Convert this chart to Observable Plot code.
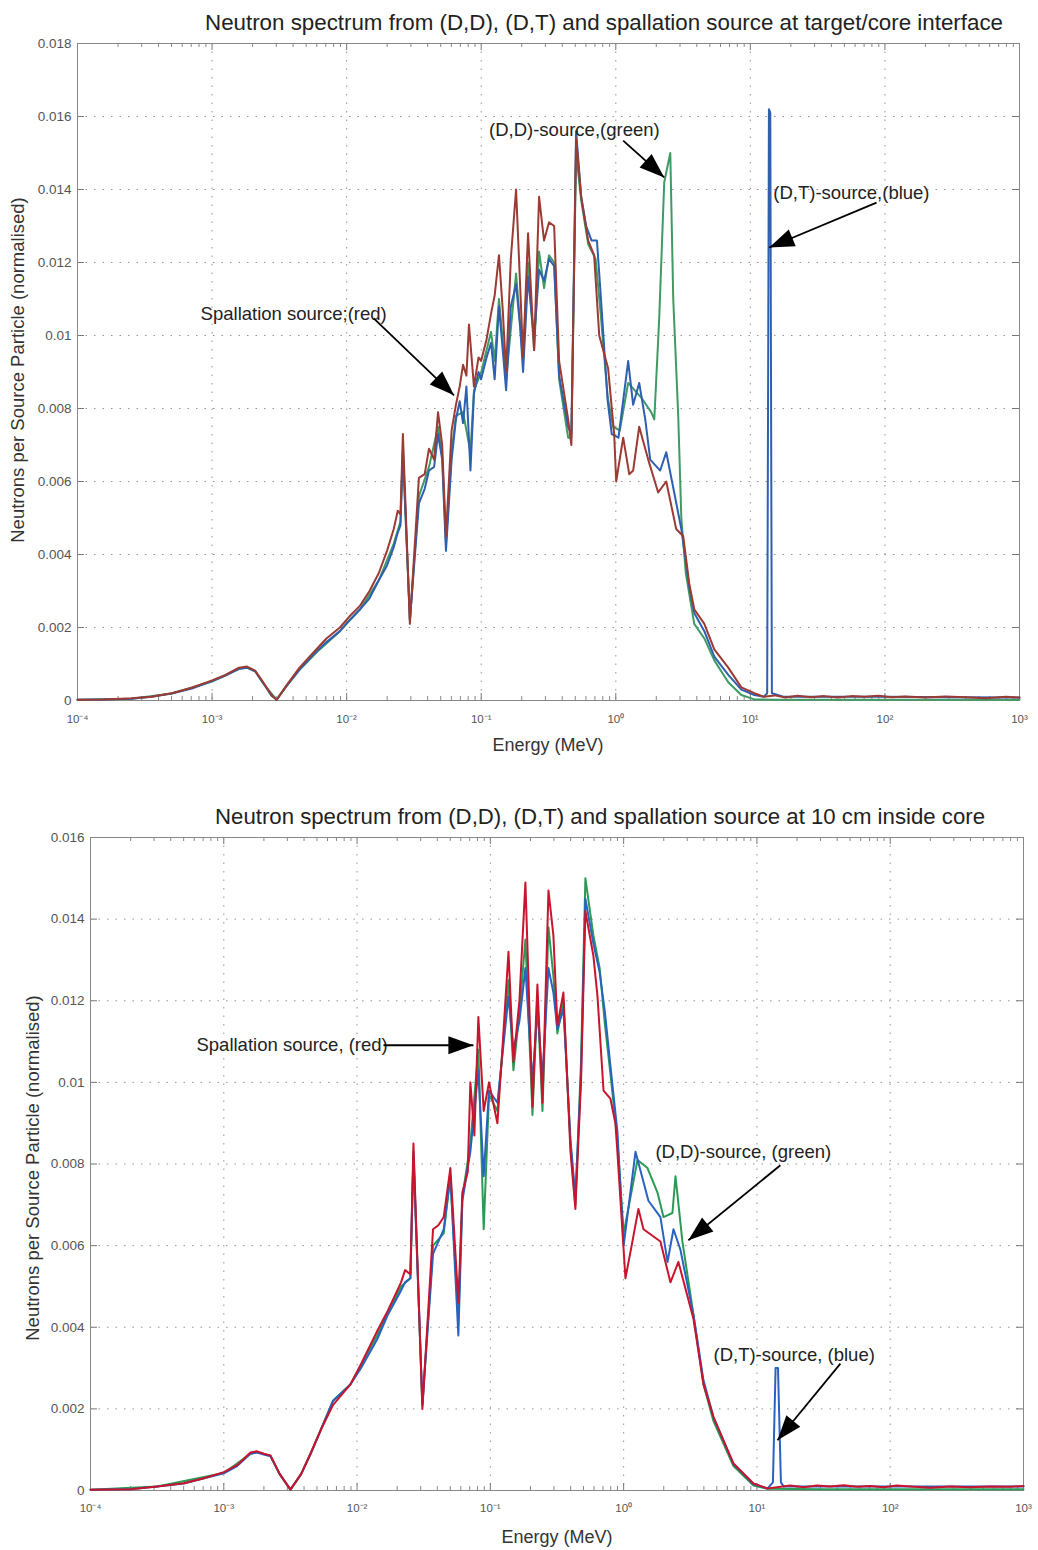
<!DOCTYPE html>
<html><head><meta charset="utf-8">
<script src="https://cdn.jsdelivr.net/npm/d3@7"></script>
<script src="https://cdn.jsdelivr.net/npm/@observablehq/plot@0.6"></script>
<style>
body{margin:0;background:#fff;}
#page{position:relative;width:1038px;height:1550px;overflow:hidden;background:#fff;font-family:"Liberation Sans",Arial,Helvetica,sans-serif;}
.chart{position:absolute;left:0;}
.title{position:absolute;font-size:22px;color:#222;white-space:nowrap;line-height:1;transform-origin:0 50%;}
.xlab{position:absolute;font-size:18px;color:#333;white-space:nowrap;transform:translate(-50%,-50%);line-height:1;}
.ylab{position:absolute;font-size:18.5px;color:#333;white-space:nowrap;transform:translate(-50%,-50%) rotate(-90deg);line-height:1;}
</style></head>
<body><div id="page">
<div class="chart" id="c1"></div>
<div class="chart" id="c2"></div>
</div>
<script>
// ---------- axis ticks / labels ----------
const xDecades = [1e-4, 1e-3, 1e-2, 1e-1, 1, 10, 100, 1000];
const xTickLabels = ["10\u207B\u2074","10\u207B\u00B3","10\u207B\u00B2","10\u207B\u00B9","10\u2070","10\u00B9","10\u00B2","10\u00B3"];
const topYTicks = [0, 0.002, 0.004, 0.006, 0.008, 0.01, 0.012, 0.014, 0.016, 0.018];
const botYTicks = [0, 0.002, 0.004, 0.006, 0.008, 0.01, 0.012, 0.014, 0.016];

const topTitle = "Neutron spectrum from (D,D), (D,T) and spallation source at target/core interface";
const botTitle = "Neutron spectrum from (D,D), (D,T) and spallation source at 10 cm inside core";
const xLabel = "Energy (MeV)";
const yLabel = "Neutrons per Source Particle (normalised)";

// ---------- TOP chart series (log10 of energy in MeV, value) ----------
const topRedLogE = [-4.0,-3.8,-3.6,-3.45,-3.3,-3.15,-3.0,-2.9,-2.8,-2.74,-2.68,-2.62,-2.56,-2.52,-2.45,-2.35,-2.25,-2.15,-2.05,-1.98,-1.9,-1.83,-1.76,-1.70,-1.65,-1.62,-1.6,-1.582,-1.53,-1.463,-1.42,-1.388,-1.35,-1.321,-1.29,-1.262,-1.22,-1.188,-1.16,-1.135,-1.11,-1.091,-1.054,-1.02,-1.001,-0.96,-0.927,-0.9,-0.868,-0.84,-0.815,-0.78,-0.741,-0.71,-0.689,-0.652,-0.607,-0.57,-0.533,-0.496,-0.458,-0.421,-0.354,-0.33,-0.295,-0.257,-0.205,-0.161,-0.123,-0.057,-0.012,0.003,0.055,0.1,0.129,0.174,0.241,0.315,0.375,0.449,0.501,0.546,0.583,0.658,0.732,0.836,0.933,1.03,1.1,1.18,1.26,1.35,1.45,1.55,1.65,1.75,1.85,1.95,2.05,2.15,2.3,2.45,2.6,2.75,2.9,3.0];
const topRedV = [0.00002,0.00003,0.00006,0.0001,0.0002,0.00035,0.00055,0.0007,0.0009,0.00093,0.00082,0.0005,0.00015,0.00002,0.0004,0.0009,0.0013,0.0017,0.002,0.0023,0.0026,0.003,0.0035,0.0041,0.0047,0.0052,0.0051,0.0073,0.0021,0.0061,0.0062,0.0069,0.0066,0.0079,0.007,0.0045,0.0074,0.0081,0.0086,0.0092,0.0089,0.0103,0.0086,0.0094,0.0093,0.0099,0.0106,0.0111,0.0122,0.0107,0.009,0.0121,0.014,0.0113,0.0094,0.0128,0.0096,0.0138,0.0126,0.0131,0.013,0.0093,0.0077,0.007,0.0154,0.0138,0.0126,0.0122,0.01,0.0091,0.0073,0.006,0.0072,0.0062,0.0063,0.0075,0.0066,0.0057,0.006,0.0047,0.0045,0.0032,0.0025,0.0021,0.0014,0.0009,0.00036,0.0002,0.0001,0.00014,0.00008,0.00013,0.00009,0.00012,0.00008,0.00012,0.0001,0.00013,0.00009,0.00011,0.00008,0.00011,0.00009,0.00006,0.0001,0.00008];

const topBlueLogE = [-4.0,-3.8,-3.6,-3.45,-3.3,-3.15,-3.0,-2.9,-2.8,-2.74,-2.68,-2.62,-2.56,-2.52,-2.45,-2.35,-2.25,-2.15,-2.05,-1.98,-1.9,-1.83,-1.76,-1.70,-1.65,-1.62,-1.6,-1.582,-1.53,-1.463,-1.42,-1.388,-1.35,-1.321,-1.29,-1.262,-1.22,-1.188,-1.16,-1.135,-1.11,-1.08,-1.054,-1.02,-1.001,-0.96,-0.927,-0.9,-0.868,-0.84,-0.815,-0.78,-0.741,-0.71,-0.689,-0.652,-0.607,-0.57,-0.533,-0.496,-0.458,-0.421,-0.354,-0.33,-0.295,-0.257,-0.22,-0.18,-0.14,-0.11,-0.06,-0.03,0.02,0.092,0.129,0.174,0.219,0.256,0.33,0.375,0.434,0.487,0.546,0.583,0.658,0.732,0.836,0.933,1.03,1.1,1.125,1.138,1.148,1.16,1.25,1.5,2.0,2.5,3.0];
const topBlueV = [0.00002,0.00003,0.00005,0.0001,0.00019,0.00033,0.00053,0.00068,0.00087,0.0009,0.0008,0.00048,0.00014,0.00002,0.00038,0.00085,0.00125,0.0016,0.0019,0.0022,0.0025,0.0028,0.0033,0.0037,0.0042,0.0046,0.0048,0.0068,0.0022,0.0054,0.0058,0.0063,0.0064,0.0073,0.0066,0.0041,0.0066,0.0077,0.0082,0.0076,0.0086,0.0063,0.0084,0.009,0.0088,0.0094,0.0098,0.0088,0.0108,0.0096,0.0085,0.0108,0.0114,0.0102,0.009,0.0116,0.0099,0.0118,0.0115,0.0121,0.0119,0.0089,0.0075,0.0073,0.0156,0.0138,0.013,0.0126,0.0126,0.011,0.0082,0.0073,0.0072,0.0093,0.0081,0.0087,0.0077,0.0066,0.0063,0.0068,0.0057,0.0047,0.0031,0.0024,0.0019,0.0012,0.0007,0.0003,0.00015,0.0001,0.0002,0.0162,0.0161,0.0002,0.0001,0.0001,0.0001,0.00009,0.00008];

const topGreenLogE = [-4.0,-3.6,-3.3,-3.0,-2.8,-2.74,-2.68,-2.62,-2.52,-2.45,-2.35,-2.2,-2.05,-1.9,-1.76,-1.65,-1.6,-1.582,-1.53,-1.463,-1.388,-1.321,-1.29,-1.262,-1.22,-1.188,-1.135,-1.08,-1.054,-1.0,-0.927,-0.9,-0.868,-0.815,-0.741,-0.689,-0.652,-0.607,-0.57,-0.533,-0.496,-0.458,-0.421,-0.354,-0.33,-0.295,-0.257,-0.205,-0.15,-0.11,-0.06,-0.02,0.03,0.092,0.189,0.263,0.286,0.31,0.323,0.36,0.405,0.427,0.464,0.487,0.52,0.583,0.658,0.732,0.836,0.933,1.03,1.2,1.6,2.2,3.0];
const topGreenV = [0.00002,0.00005,0.00019,0.00052,0.00087,0.0009,0.0008,0.00047,0.00002,0.00038,0.00084,0.0014,0.0019,0.0025,0.0033,0.0043,0.0049,0.0069,0.0022,0.0056,0.0064,0.0075,0.0067,0.0043,0.0068,0.0078,0.0079,0.0068,0.0085,0.009,0.0101,0.0093,0.011,0.0088,0.0117,0.0093,0.012,0.0096,0.0123,0.0113,0.0122,0.012,0.0088,0.0072,0.0072,0.015,0.0137,0.0125,0.0121,0.0105,0.0083,0.0075,0.0074,0.0087,0.0083,0.0079,0.0077,0.0095,0.0105,0.0142,0.015,0.011,0.0078,0.005,0.0035,0.0021,0.0017,0.0011,0.0005,0.00015,0.00003,0.00002,0.00002,0.00002,0.00002];

// ---------- BOTTOM chart series ----------
const botRedLogE = [-4.0,-3.7,-3.5,-3.3,-3.15,-3.0,-2.9,-2.8,-2.75,-2.7,-2.65,-2.58,-2.5,-2.42,-2.35,-2.27,-2.18,-2.05,-1.97,-1.85,-1.77,-1.67,-1.64,-1.6,-1.577,-1.51,-1.43,-1.39,-1.35,-1.3,-1.24,-1.21,-1.17,-1.15,-1.12,-1.09,-1.05,-1.01,-0.947,-0.91,-0.864,-0.827,-0.782,-0.737,-0.684,-0.647,-0.609,-0.564,-0.527,-0.497,-0.452,-0.399,-0.362,-0.32,-0.287,-0.227,-0.196,-0.151,-0.099,-0.062,-0.047,0.0135,0.06,0.111,0.149,0.276,0.351,0.411,0.524,0.599,0.674,0.824,0.974,1.079,1.15,1.25,1.35,1.45,1.55,1.65,1.75,1.85,1.95,2.05,2.15,2.3,2.45,2.6,2.75,2.9,3.0];
const botRedV = [0.00002,0.00003,0.0001,0.00018,0.0003,0.00045,0.00062,0.00093,0.00096,0.0009,0.00086,0.0004,0.00002,0.0004,0.0009,0.0015,0.0021,0.0026,0.0031,0.0039,0.0044,0.0051,0.0054,0.0053,0.0085,0.002,0.0064,0.0065,0.0067,0.0079,0.0046,0.0073,0.0078,0.01,0.0087,0.0116,0.0093,0.01,0.009,0.0108,0.0132,0.0105,0.012,0.0149,0.0094,0.0124,0.0095,0.0147,0.0136,0.0114,0.0122,0.0083,0.0069,0.01,0.0142,0.0131,0.0121,0.0098,0.0096,0.009,0.0083,0.0052,0.006,0.0069,0.0064,0.0061,0.0051,0.0056,0.0042,0.0026,0.0018,0.00066,0.00017,0.00005,0.00008,0.00012,0.00008,0.00012,0.0001,0.00013,0.00009,0.00011,0.00008,0.00012,0.0001,0.00007,0.0001,0.00008,0.0001,0.00009,0.00011];

const botBlueLogE = [-4.0,-3.7,-3.5,-3.3,-3.0,-2.9,-2.8,-2.75,-2.7,-2.65,-2.58,-2.5,-2.42,-2.35,-2.27,-2.18,-2.05,-1.97,-1.85,-1.77,-1.67,-1.64,-1.6,-1.577,-1.51,-1.43,-1.35,-1.3,-1.24,-1.21,-1.15,-1.09,-1.05,-1.01,-0.947,-0.864,-0.827,-0.782,-0.737,-0.684,-0.647,-0.609,-0.564,-0.527,-0.497,-0.452,-0.399,-0.362,-0.32,-0.287,-0.227,-0.18,-0.14,-0.099,-0.047,0.0,0.089,0.186,0.276,0.329,0.374,0.426,0.524,0.599,0.674,0.824,0.974,1.08,1.12,1.14,1.158,1.18,1.2,1.6,2.2,3.0];
const botBlueV = [0.00002,0.00003,0.0001,0.00017,0.00042,0.0006,0.0009,0.00093,0.00088,0.00084,0.0004,0.00002,0.0004,0.00088,0.0015,0.0022,0.0026,0.003,0.0037,0.0043,0.0049,0.0051,0.0052,0.0083,0.0021,0.0058,0.0064,0.0077,0.0038,0.0071,0.0083,0.0103,0.0077,0.0098,0.0095,0.0121,0.0108,0.0115,0.0128,0.01,0.0118,0.0101,0.0128,0.0122,0.0113,0.0118,0.0086,0.0072,0.0102,0.0145,0.0134,0.0127,0.0117,0.0104,0.0088,0.006,0.0083,0.0071,0.0067,0.0056,0.0064,0.0059,0.0043,0.0027,0.0018,0.00065,0.00016,0.00005,0.0002,0.003,0.003,0.0002,0.0001,0.0001,0.0001,0.0001];

const botGreenLogE = [-4.0,-3.5,-3.0,-2.8,-2.75,-2.65,-2.58,-2.5,-2.42,-2.35,-2.18,-2.05,-1.85,-1.67,-1.6,-1.577,-1.51,-1.43,-1.35,-1.3,-1.24,-1.21,-1.15,-1.09,-1.05,-1.01,-0.947,-0.864,-0.827,-0.782,-0.737,-0.684,-0.647,-0.609,-0.564,-0.527,-0.497,-0.452,-0.399,-0.362,-0.32,-0.287,-0.227,-0.18,-0.14,-0.099,-0.047,0.0,0.104,0.179,0.254,0.299,0.366,0.389,0.441,0.524,0.599,0.674,0.824,0.974,1.08,1.5,2.2,3.0];
const botGreenV = [0.00002,0.0001,0.00043,0.0009,0.00094,0.00085,0.0004,0.00002,0.0004,0.0009,0.0022,0.0026,0.0038,0.005,0.0052,0.0082,0.0021,0.006,0.0063,0.0077,0.0042,0.0072,0.0085,0.0108,0.0064,0.0097,0.0093,0.0125,0.0103,0.0117,0.0135,0.0092,0.0121,0.0093,0.0138,0.0126,0.0112,0.012,0.0085,0.007,0.0105,0.015,0.0136,0.0128,0.0114,0.0102,0.0086,0.0063,0.0081,0.0079,0.0073,0.0067,0.0068,0.0077,0.0061,0.0043,0.0026,0.0017,0.0006,0.00012,0.00004,0.00003,0.00003,0.00003];

// ---------- annotations (energy MeV, value) ----------
const topNoteText = ["(D,D)-source,(green)", "(D,T)-source,(blue)", "Spallation source;(red)"];
const topNoteE = [0.1143, 14.8, 0.000822];
const topNoteV = [0.01562, 0.01389, 0.0106];
const topArrowE1 = [1.135, 86.6, 0.0159];
const topArrowV1 = [0.01534, 0.01364, 0.01047];
const topArrowE2 = [2.29, 13.8, 0.0628];
const topArrowV2 = [0.01433, 0.01241, 0.00836];

const botNoteText = ["Spallation source, (red)", "(D,D)-source, (green)", "(D,T)-source, (blue)"];
const botNoteE = [0.000624, 1.732, 4.72];
const botNoteV = [0.01091, 0.00828, 0.00331];
const botArrowE1 = [0.01578, 15.0, 42.3];
const botArrowV1 = [0.01091, 0.00797, 0.00311];
const botArrowE2 = [0.0746, 3.06, 14.26];
const botArrowV2 = [0.01091, 0.00613, 0.00123];

// ---------- helpers ----------
const FONT = '"Liberation Sans", Arial, Helvetica, sans-serif';
const toRows = (logE, v) => logE.map((l, i) => ({E: Math.pow(10, l), v: v[i]}));
const minorTicks = [];
xDecades.slice(0, -1).forEach(d => { for (let k = 2; k <= 9; k++) minorTicks.push(d * k); });
const yFmt = d => String(+d.toFixed(3));
const xFmt = d => xTickLabels[xDecades.indexOf(d)] ?? "";
const head = { draw(ctx) { ctx.moveTo(0, 0); ctx.lineTo(-9, 25); ctx.lineTo(9, 25); ctx.closePath(); } };

function buildChart(cfg, arrowRows) {
  const frameH = cfg.height - cfg.mt - cfg.mb;
  const frameW = 1038 - cfg.ml - cfg.mr;
  const gridStyle = {stroke: "#8a8a8a", strokeOpacity: 0.9, strokeWidth: 1, strokeDasharray: "1.5,7"};
  const marks = [
    Plot.gridX(xDecades, gridStyle),
    Plot.gridY(cfg.yTicks, gridStyle),
    Plot.ruleX(xDecades, {insetTop: frameH - 7, stroke: "#777"}),
    Plot.ruleX(xDecades, {insetBottom: frameH - 7, stroke: "#777"}),
    Plot.ruleX(minorTicks, {insetTop: frameH - 4, stroke: "#888"}),
    Plot.ruleX(minorTicks, {insetBottom: frameH - 4, stroke: "#888"}),
    Plot.ruleY(cfg.yTicks, {insetRight: frameW - 7, stroke: "#777"}),
    Plot.ruleY(cfg.yTicks, {insetLeft: frameW - 7, stroke: "#777"}),
    Plot.frame({stroke: "#888"}),
    Plot.axisX(xDecades, {tickFormat: xFmt, tickSize: 0, tickPadding: cfg.xPad, fontSize: 11.5, fill: "#555"}),
    Plot.axisY(cfg.yTicks, {tickFormat: yFmt, tickSize: 0, tickPadding: 6, fontSize: 13.5, fill: "#555"}),
    Plot.line(cfg.green, {x: "E", y: "v", stroke: cfg.colors[0], strokeWidth: 2}),
    Plot.line(cfg.blue, {x: "E", y: "v", stroke: cfg.colors[1], strokeWidth: 2}),
    Plot.line(cfg.red, {x: "E", y: "v", stroke: cfg.colors[2], strokeWidth: 2}),
    Plot.text(cfg.notes, {x: "E", y: "v", text: "t", textAnchor: "start", fontSize: 18.5, fill: "#222", fontFamily: FONT}),
    Plot.link(cfg.arrows, {x1: "E1", y1: "v1", x2: "E2", y2: "v2", stroke: "#000", strokeWidth: 1.8})
  ];
  if (arrowRows) marks.push(Plot.dot(arrowRows, {x: "E2", y: "v2", symbol: head, r: 5, fill: "#000", stroke: "none", rotate: "angle"}));
  return Plot.plot({
    width: 1038, height: cfg.height,
    marginLeft: cfg.ml, marginRight: cfg.mr, marginTop: cfg.mt, marginBottom: cfg.mb,
    x: {type: "log", domain: [1e-4, 1e3]},
    y: {domain: cfg.yDomain},
    style: {fontFamily: FONT, background: "transparent", overflow: "visible"},
    marks
  });
}

function makeChart(cfg) {
  const p0 = buildChart(cfg, null);
  const sx = p0.scale("x"), sy = p0.scale("y");
  const rows = cfg.arrows.map(a => {
    const dx = sx.apply(a.E2) - sx.apply(a.E1), dy = sy.apply(a.v2) - sy.apply(a.v1);
    return {...a, angle: Math.atan2(dx, -dy) * 180 / Math.PI};
  });
  return buildChart(cfg, rows);
}

const topCfg = {
  height: 770, ml: 77, mr: 19, mt: 43, mb: 70, xPad: 14, yTicks: topYTicks, yDomain: [0, 0.018],
  colors: ["#3f9a63", "#2f5fb0", "#9c3b33"],
  red: toRows(topRedLogE, topRedV), blue: toRows(topBlueLogE, topBlueV), green: toRows(topGreenLogE, topGreenV),
  notes: topNoteText.map((t, i) => ({t, E: topNoteE[i], v: topNoteV[i]})),
  arrows: topArrowE1.map((e, i) => ({E1: e, v1: topArrowV1[i], E2: topArrowE2[i], v2: topArrowV2[i]}))
};
const botCfg = {
  height: 760, ml: 90, mr: 15, mt: 47, mb: 60, xPad: 13, yTicks: botYTicks, yDomain: [0, 0.016],
  colors: ["#2a9a55", "#2a62c0", "#c8142c"],
  red: toRows(botRedLogE, botRedV), blue: toRows(botBlueLogE, botBlueV), green: toRows(botGreenLogE, botGreenV),
  notes: botNoteText.map((t, i) => ({t, E: botNoteE[i], v: botNoteV[i]})),
  arrows: botArrowE1.map((e, i) => ({E1: e, v1: botArrowV1[i], E2: botArrowE2[i], v2: botArrowV2[i]}))
};

const c1 = document.getElementById("c1"), c2 = document.getElementById("c2");
c1.style.top = "0px"; c2.style.top = "790px";
c1.appendChild(makeChart(topCfg));
c2.appendChild(makeChart(botCfg));

const page = document.getElementById("page");
function addDiv(cls, text, left, top) {
  const d = document.createElement("div");
  d.className = cls; d.textContent = text;
  d.style.left = left + "px"; d.style.top = top + "px";
  page.appendChild(d);
  return d;
}
function addTitle(text, left, right, top) {
  const d = addDiv("title", text, left, top);
  const w = d.getBoundingClientRect().width;
  d.style.transform = "scaleX(" + ((right - left) / w) + ")";
}
addTitle(topTitle, 205, 1003, 12);
addTitle(botTitle, 215, 985, 806);
addDiv("xlab", xLabel, 548, 745);
addDiv("xlab", xLabel, 557, 1537);
addDiv("ylab", yLabel, 18, 370);
addDiv("ylab", yLabel, 33, 1168);
</script>
</body></html>
